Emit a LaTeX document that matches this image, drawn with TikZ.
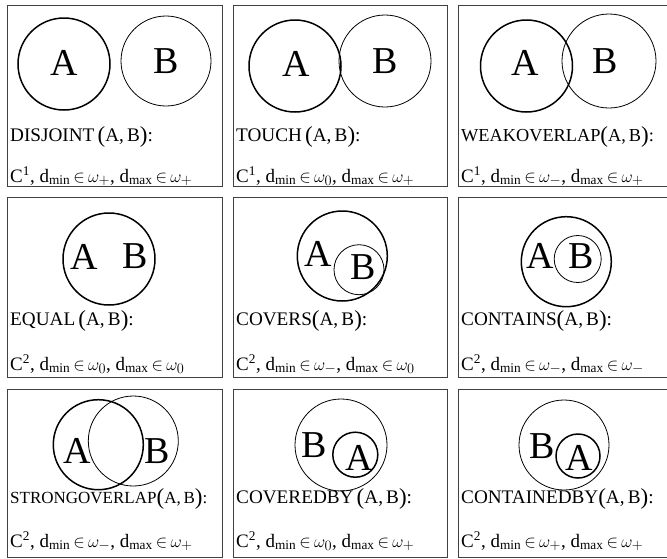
\documentclass[tikz,border=0pt]{standalone}
\usepackage{fontspec}
\setmainfont{Liberation Serif}
\usetikzlibrary{positioning}
\newcommand{\bigpar}[1]{\raisebox{-1.2pt}{\fontsize{23}{23}\selectfont #1}}
\newcommand{\relargs}{\bigpar{(}A,\,B\bigpar{)}:}

\begin{document}
\begin{tikzpicture}[x=1pt, y=-1pt,
    panel/.style={draw=black!75, line width=0.9pt, anchor=north west, inner sep=0pt},
    setA/.style={draw, circle, line width=1.5pt, inner sep=0pt},
    setB/.style={draw, circle, line width=0.8pt, inner sep=0pt},
    letter/.style={inner sep=0pt, font=\fontsize{38}{38}\selectfont},
    rel/.style={anchor=base west, inner sep=0pt, font=\fontsize{19.2}{22}\selectfont},
    cond/.style={anchor=base west, inner sep=0pt, font=\fontsize{19}{22}\selectfont}
]
\clip (0,0) rectangle (667,558);

% row 1
\node[panel, minimum width=215pt, minimum height=181pt] (p1) at (7,5) {};
\node[panel, minimum width=214pt, minimum height=181pt] (p2) at (233,5) {};
\node[panel, minimum width=214pt, minimum height=181pt] (p3) at (458,5) {};

\node[setA, minimum size=92pt] (a1) at (64,64) {};
\node[setB, minimum size=90pt] (b1) at (166,61) {};
\node[letter] (la1) at (64,63) {A};
\node[letter] (lb1) at (166,61) {B};
\node[rel] (r1) at (10,141.5) {DISJOINT\,\relargs};
\node[cond] (c1) at (10,182) {C\textsuperscript{1}, d\textsubscript{min}\,$\in$\,$\omega_{+}$, d\textsubscript{max}\,$\in$\,$\omega_{+}$};

\node[setA, minimum size=92pt] (a2) at (295,66) {};
\node[setB, minimum size=92pt] (b2) at (385,61) {};
\node[letter] (la2) at (296,64) {A};
\node[letter] (lb2) at (385.5,61) {B};
\node[rel] (r2) at (236,141.5) {TOUCH\,\relargs};
\node[cond] (c2) at (236,182) {C\textsuperscript{1}, d\textsubscript{min}\,$\in$\,$\omega_{0}$, d\textsubscript{max}\,$\in$\,$\omega_{+}$};

\node[setA, minimum size=92pt] (a3) at (526.5,66) {};
\node[setB, minimum size=94pt] (b3) at (609,61) {};
\node[letter] (la3) at (525.5,63) {A};
\node[letter] (lb3) at (605.5,61) {B};
\node[rel, font=\fontsize{18.3}{22}\selectfont] (r3) at (461,141.5) {WEAKOVERLAP\relargs};
\node[cond] (c3) at (461,182) {C\textsuperscript{1}, d\textsubscript{min}\,$\in$\,$\omega_{-}$, d\textsubscript{max}\,$\in$\,$\omega_{+}$};

% row 2
\node[panel, minimum width=215pt, minimum height=180pt] (p4) at (7,197) {};
\node[panel, minimum width=214pt, minimum height=180pt] (p5) at (233,197) {};
\node[panel, minimum width=214pt, minimum height=180pt] (p6) at (458,197) {};

\node[setA, minimum size=92pt] (a4) at (109,259) {};
\node[letter] (la4) at (84,256.5) {A};
\node[letter] (lb4) at (135,256.5) {B};
\node[rel] (r4) at (10,325.7) {EQUAL\,\relargs};
\node[cond] (c4) at (10,370) {C\textsuperscript{2}, d\textsubscript{min}\,$\in$\,$\omega_{0}$, d\textsubscript{max}\,$\in$\,$\omega_{0}$};

\node[setA, minimum size=90pt] (a5) at (342.3,256) {};
\node[setB, minimum size=50pt] (b5) at (359,269.7) {};
\node[letter] (la5) at (318.5,254) {A};
\node[letter] (lb5) at (363.5,267) {B};
\node[rel] (r5) at (236,325.7) {COVERS\relargs};
\node[cond] (c5) at (236,370) {C\textsuperscript{2}, d\textsubscript{min}\,$\in$\,$\omega_{-}$, d\textsubscript{max}\,$\in$\,$\omega_{0}$};

\node[setA, minimum size=90pt] (a6) at (566.3,261.7) {};
\node[setB, minimum size=47pt] (b6) at (577.7,259) {};
\node[letter] (la6) at (540.5,256) {A};
\node[letter] (lb6) at (581.5,256) {B};
\node[rel] (r6) at (461,325.7) {CONTAINS\relargs};
\node[cond] (c6) at (461,370) {C\textsuperscript{2}, d\textsubscript{min}\,$\in$\,$\omega_{-}$, d\textsubscript{max}\,$\in$\,$\omega_{-}$};

% row 3
\node[panel, minimum width=215pt, minimum height=168pt] (p7) at (7,389) {};
\node[panel, minimum width=214pt, minimum height=168pt] (p8) at (233,389) {};
\node[panel, minimum width=214pt, minimum height=168pt] (p9) at (458,389) {};

\node[setA, minimum size=90pt] (a7) at (98.3,444.7) {};
\node[setB, minimum size=90pt] (b7) at (133.3,441) {};
\node[letter] (la7) at (77.5,451) {A};
\node[letter] (lb7) at (157.5,451) {B};
\node[rel, font=\fontsize{17}{20}\selectfont] (r7) at (10,503) {STRONGOVERLAP\relargs};
\node[cond] (c7) at (10,547) {C\textsuperscript{2}, d\textsubscript{min}\,$\in$\,$\omega_{-}$, d\textsubscript{max}\,$\in$\,$\omega_{+}$};

\node[setB, minimum size=92pt] (b8) at (341,445) {};
\node[setA, minimum size=45pt] (a8) at (355.3,454.7) {};
\node[letter] (lb8) at (313.7,445) {B};
\node[letter] (la8) at (359.5,457.5) {A};
\node[rel] (r8) at (236,503) {COVEREDBY\,\relargs};
\node[cond] (c8) at (236,547) {C\textsuperscript{2}, d\textsubscript{min}\,$\in$\,$\omega_{0}$, d\textsubscript{max}\,$\in$\,$\omega_{+}$};

\node[setB, minimum size=90pt] (b9) at (564,445) {};
\node[setA, minimum size=44pt] (a9) at (578,456) {};
\node[letter] (lb9) at (542,446) {B};
\node[letter] (la9) at (579,458) {A};
\node[rel] (r9) at (461,503) {CONTAINEDBY\relargs};
\node[cond] (c9) at (461,547) {C\textsuperscript{2}, d\textsubscript{min}\,$\in$\,$\omega_{+}$, d\textsubscript{max}\,$\in$\,$\omega_{+}$};

\end{tikzpicture}
\end{document}
